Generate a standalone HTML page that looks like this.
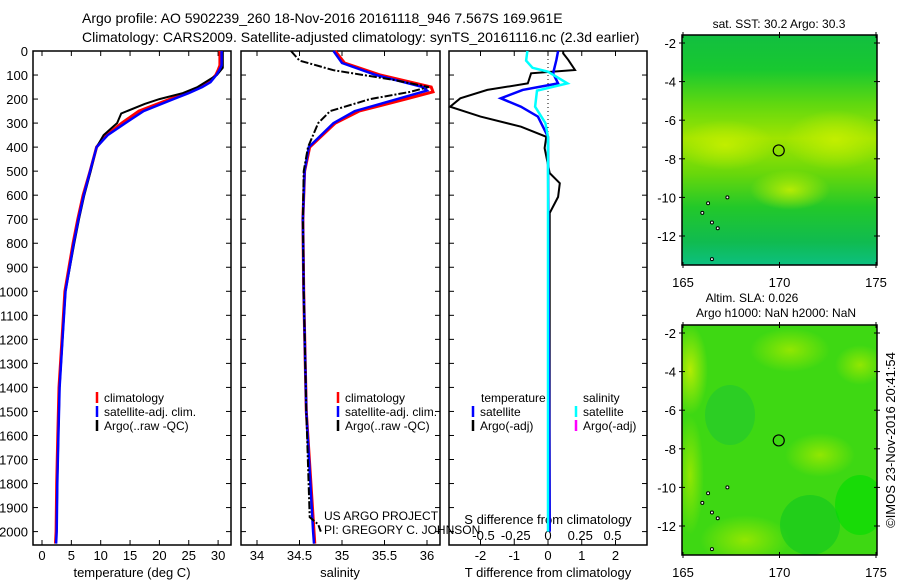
<!DOCTYPE html>
<html><head><meta charset="utf-8"><style>
body{margin:0;background:#fff;}
svg{display:block;font-family:"Liberation Sans",sans-serif;}
</style></head><body>
<svg id="c" width="900" height="580" viewBox="0 0 900 580">
<defs>
<radialGradient id="yb" cx="50%" cy="50%" r="50%"><stop offset="0" stop-color="#c8f000" stop-opacity="0.85"/><stop offset="1" stop-color="#c8f000" stop-opacity="0"/></radialGradient>
<radialGradient id="yb2" cx="50%" cy="50%" r="50%"><stop offset="0" stop-color="#9ae800" stop-opacity="0.9"/><stop offset="1" stop-color="#9ae800" stop-opacity="0"/></radialGradient>
<linearGradient id="sst" x1="0" y1="0" x2="0" y2="1">
<stop offset="0" stop-color="#12bf40"/><stop offset="0.15" stop-color="#18c830"/><stop offset="0.3" stop-color="#60d810"/><stop offset="0.45" stop-color="#a0e400"/><stop offset="0.6" stop-color="#6ad80a"/><stop offset="0.75" stop-color="#22c82a"/><stop offset="0.9" stop-color="#10bb50"/><stop offset="1" stop-color="#0cc080"/></linearGradient>
<clipPath id="m1"><rect x="682" y="35" width="195" height="230"/></clipPath>
<clipPath id="m2"><rect x="682" y="325" width="195" height="230"/></clipPath>
</defs>
<text x="82" y="23" font-size="14">Argo profile: AO 5902239_260 18-Nov-2016 20161118_946 7.567S 169.961E</text>
<text x="82" y="42" font-size="14">Climatology: CARS2009. Satellite-adjusted climatology: synTS_20161116.nc (2.3d earlier)</text>
<g id="g"></g>
</svg>
<script>
// ---- data ----
const tClimD=[0,60,80,100,130,150,175,200,250,300,350,400,500,600,700,800,900,1000,1200,1400,1600,1800,2000,2050];
const tClimV=[30.3,30.3,30.0,29.6,28.5,27.0,24.5,21.8,16.5,13.6,11.0,9.3,8.2,7.0,6.1,5.3,4.6,3.9,3.4,2.9,2.7,2.5,2.4,2.3];
const tSatD=[0,60,80,100,130,150,175,200,250,300,350,400,500,600,700,800,900,1000,1200,1400,1600,1800,2000,2050];
const tSatV=[30.6,30.6,30.2,29.7,28.7,27.3,25.0,22.4,17.3,14.2,11.2,9.3,8.2,7.1,6.2,5.4,4.7,4.0,3.5,3.0,2.8,2.6,2.5,2.4];
const tArgoD=[0,70,100,150,175,200,220,260,300,350,400,500,600,700,800,1000,1200,1400,1600,1800,1990];
const tArgoV=[30.8,30.8,29.8,26.5,24.0,20.0,17.5,13.5,12.8,10.5,9.3,8.3,7.2,6.3,5.5,4.0,3.5,3.0,2.8,2.6,2.5];
const sClimD=[0,50,100,150,170,200,250,300,400,500,700,1000,1500,2000,2050];
const sClimV=[34.92,35.03,35.45,36.05,36.07,35.75,35.2,34.92,34.62,34.56,34.54,34.55,34.58,34.67,34.68];
const sSatD=[0,50,100,150,165,200,250,300,400,500,700,1000,1500,2000,2050];
const sSatV=[34.9,35.0,35.4,35.95,36.0,35.65,35.15,34.9,34.61,34.56,34.54,34.55,34.58,34.66,34.67];
const sArgoD=[0,40,80,120,150,170,200,250,300,400,500,700,1000,1500,1940,1970,2000];
const sArgoV=[34.4,34.5,34.9,35.6,36.02,35.8,35.33,34.86,34.72,34.6,34.55,34.54,34.55,34.58,34.62,34.72,34.75];
const dTArgoD=[0,10,37,79,93,135,162,197,232,273,315,357,404,508,550,607,674,2000];
const dTArgoV=[0.45,0.45,0.6,0.8,-0.5,-0.6,-1.8,-2.6,-2.9,-2.0,-0.8,-0.05,-0.1,0.05,0.35,0.3,0.05,0.05];
const dTSatD=[0,37,93,135,162,197,232,273,357,2000];
const dTSatV=[0.3,0.25,0.15,0.3,-0.75,-1.4,-0.8,-0.3,0.0,0.05];
const dSSatD=[0,40,70,86,135,165,232,300,358,2000];
const dSSatV=[-0.16,-0.17,-0.12,0.0,0.15,-0.085,-0.1,-0.02,0.0,0.0];
const depthTicks=[0,100,200,300,400,500,600,700,800,900,1000,1100,1200,1300,1400,1500,1600,1700,1800,1900,2000];
const tTicks=[0,5,10,15,20,25,30];
const sTicks=[34,34.5,35,35.5,36];
const dTTicks=[-2,-1,0,1,2];
const dSTicks=[-0.5,-0.25,0,0.25,0.5];
const lonTicks=[165,170,175];
const latTicks=[-2,-4,-6,-8,-10,-12];
// ---- scales ----
const Y=d=>51+d*0.2403;
const XT=t=>42+t*5.87;
const XS=s=>257+(s-34)*85;
const XDT=v=>548+v*33.75;
const XDS=v=>548+v*129;
const g=document.getElementById('g');
const NS='http://www.w3.org/2000/svg';
function mk(tag,a){const e=document.createElementNS(NS,tag);for(const k in a)e.setAttribute(k,a[k]);g.appendChild(e);return e;}
function txt(x,y,s,anchor,fs){const e=mk('text',{x:x,y:y,'font-size':fs||13,'text-anchor':anchor||'start'});e.textContent=s;return e;}
function line(D,V,X,col,w,dash){let d='';D.forEach((dd,i)=>{d+=(i?'L':'M')+X(V[i]).toFixed(1)+' '+Y(dd).toFixed(1);});const p=mk('path',{d:d,fill:'none',stroke:col,'stroke-width':w});if(dash)p.setAttribute('stroke-dasharray',dash);return p;}
const panels=[[33,231],[241,440],[449,647]];
panels.forEach((p,i)=>{
 const r=mk('rect',{x:p[0],y:51,width:p[1]-p[0],height:494,fill:'none',stroke:'#000','stroke-width':1.5});
 
 
 depthTicks.forEach(d=>{mk('line',{x1:p[0],x2:p[0]+5,y1:Y(d),y2:Y(d),stroke:'#000'});mk('line',{x1:p[1]-5,x2:p[1],y1:Y(d),y2:Y(d),stroke:'#000'});});
});
depthTicks.forEach(d=>{const t=txt(28,Y(d)+5,String(d),'end');});
tTicks.forEach(v=>{mk('line',{x1:XT(v),x2:XT(v),y1:545,y2:540,stroke:'#000'});mk('line',{x1:XT(v),x2:XT(v),y1:51,y2:56,stroke:'#000'});const t=txt(XT(v),560,String(v),'middle');});
sTicks.forEach(v=>{mk('line',{x1:XS(v),x2:XS(v),y1:545,y2:540,stroke:'#000'});mk('line',{x1:XS(v),x2:XS(v),y1:51,y2:56,stroke:'#000'});const t=txt(XS(v),560,String(v),'middle');});
dTTicks.forEach(v=>{mk('line',{x1:XDT(v),x2:XDT(v),y1:545,y2:540,stroke:'#000'});mk('line',{x1:XDT(v),x2:XDT(v),y1:51,y2:56,stroke:'#000'});const t=txt(XDT(v),560,String(v),'middle');});
dSTicks.forEach(v=>{const t=txt(XDS(v),540,String(v),'middle');});
let a;
a=txt(132,577,'temperature (deg C)','middle');
a=txt(340,577,'salinity','middle');
a=txt(548,577,'T difference from climatology','middle');
a=txt(548,524,'S difference from climatology','middle');
// zero dotted line
a=mk('line',{x1:548,x2:548,y1:51,y2:Y(380),stroke:'#000','stroke-dasharray':'1 3'});
// series
a=line(tClimD,tClimV,XT,'#f00',3);
a=line(tArgoD,tArgoV,XT,'#000',2);
a=line(tSatD,tSatV,XT,'#00f',2.5);
a=line(sClimD,sClimV,XS,'#f00',3);
a=line(sSatD,sSatV,XS,'#00f',2.5);
a=line(sArgoD,sArgoV,XS,'#000',2,'8 2 2 2');
a=line(dTArgoD,dTArgoV,XDT,'#000',2);
a=line(dTSatD,dTSatV,XDT,'#00f',2.5);
a=line(dSSatD,dSSatV,XDS,'#0ff',2.5);
// legends
function leg(x,y,col,label,nm){const m=mk('line',{x1:x,x2:x,y1:y-10,y2:y+1,stroke:col,'stroke-width':2.5});const t=txt(x+7,y,label,'start',12);}
leg(97,402,'#f00','climatology','legend-temp-clim');
leg(97,416,'#00f','satellite-adj. clim.','legend-temp-sat');
leg(97,430,'#000','Argo(..raw -QC)','legend-temp-argo');
leg(338,402,'#f00','climatology','legend-sal-clim');
leg(338,416,'#00f','satellite-adj. clim.','legend-sal-sat');
leg(338,430,'#000','Argo(..raw -QC)','legend-sal-argo');
a=txt(481,402,'temperature','start',12);
a=txt(583,402,'salinity','start',12);
leg(473,416,'#00f','satellite','legend-t-sat');
leg(473,430,'#000','Argo(-adj)','legend-t-argo');
leg(576,416,'#0ff','satellite','legend-s-sat');
leg(576,430,'#f0f','Argo(-adj)','legend-s-argo');
a=txt(324,520,'US ARGO PROJECT','start',12);
a=txt(324,534,'PI: GREGORY C. JOHNSON','start',12);
// maps
function map(y0,clip,top){
 const gg=mk('g',{'clip-path':'url(#'+clip+')'});
 const add=(tag,at)=>{const e=document.createElementNS(NS,tag);for(const k in at)e.setAttribute(k,at[k]);gg.appendChild(e);return e;};
 if(top){
  add('rect',{x:682,y:y0,width:195,height:230,fill:'url(#sst)'});
  add('ellipse',{cx:725,cy:y0+110,rx:50,ry:25,fill:'url(#yb)'});
  add('ellipse',{cx:835,cy:y0+105,rx:50,ry:30,fill:'url(#yb)'});
  add('ellipse',{cx:790,cy:y0+155,rx:40,ry:20,fill:'url(#yb)'});
 } else {
  add('rect',{x:682,y:y0,width:195,height:230,fill:'#3ed813'});
  add('ellipse',{cx:690,cy:y0+45,rx:18,ry:45,fill:'url(#yb)'});
  add('ellipse',{cx:690,cy:y0+150,rx:14,ry:60,fill:'url(#yb2)'});
  add('ellipse',{cx:745,cy:y0+215,rx:45,ry:25,fill:'url(#yb2)'});
  add('ellipse',{cx:820,cy:y0+130,rx:35,ry:22,fill:'url(#yb2)'});
  add('ellipse',{cx:790,cy:y0+25,rx:40,ry:22,fill:'url(#yb2)'});
  add('ellipse',{cx:860,cy:y0+40,rx:25,ry:20,fill:'url(#yb2)'});
  add('ellipse',{cx:730,cy:y0+90,rx:25,ry:30,fill:'#22c830',opacity:0.6});
  add('ellipse',{cx:810,cy:y0+200,rx:30,ry:30,fill:'#10c820',opacity:0.6});
  add('ellipse',{cx:860,cy:y0+180,rx:25,ry:30,fill:'#00dd00',opacity:0.6});
 }
 
 
 const fr=mk('rect',{x:682,y:y0,width:195,height:230,fill:'none',stroke:'#000','stroke-width':1.5});
 
 
 const LX=l=>683+(l-165)*19.3, LY=l=>y0+8+(-2-l)*19.3;
 lonTicks.forEach(l=>{mk('line',{x1:LX(l),x2:LX(l),y1:y0-3,y2:y0+3,stroke:'#000'});mk('line',{x1:LX(l),x2:LX(l),y1:y0+227,y2:y0+233,stroke:'#000'});const t=txt(LX(l),y0+252,String(l),'middle');});
 latTicks.forEach(l=>{mk('line',{x1:679,x2:685,y1:LY(l),y2:LY(l),stroke:'#000'});mk('line',{x1:874,x2:880,y1:LY(l),y2:LY(l),stroke:'#000'});const t=txt(676,LY(l)+5,String(l),'end');});
 const c=mk('circle',{cx:LX(169.961),cy:LY(-7.567),r:5.5,fill:'none',stroke:'#000','stroke-width':1.2});
 
 [[166,-10.8],[166.3,-10.3],[166.8,-11.6],[166.5,-11.3],[167.3,-10],[166.5,-13.2]].forEach(p=>{mk('circle',{cx:LX(p[0]),cy:LY(p[1]),r:1.5,fill:'#fff',stroke:'#000','stroke-width':1});});
}
map(35,'m1',true);
map(325,'m2',false);
a=txt(779,28,'sat. SST: 30.2 Argo: 30.3','middle',12);
a=txt(752,302,'Altim. SLA: 0.026','middle',12);
a=txt(776,317,'Argo h1000: NaN h2000: NaN','middle',12);
a=txt(0,0,'©IMOS 23-Nov-2016 20:41:54','middle',13);a.setAttribute('transform','translate(895,440) rotate(-90)');
</script>
</body></html>
